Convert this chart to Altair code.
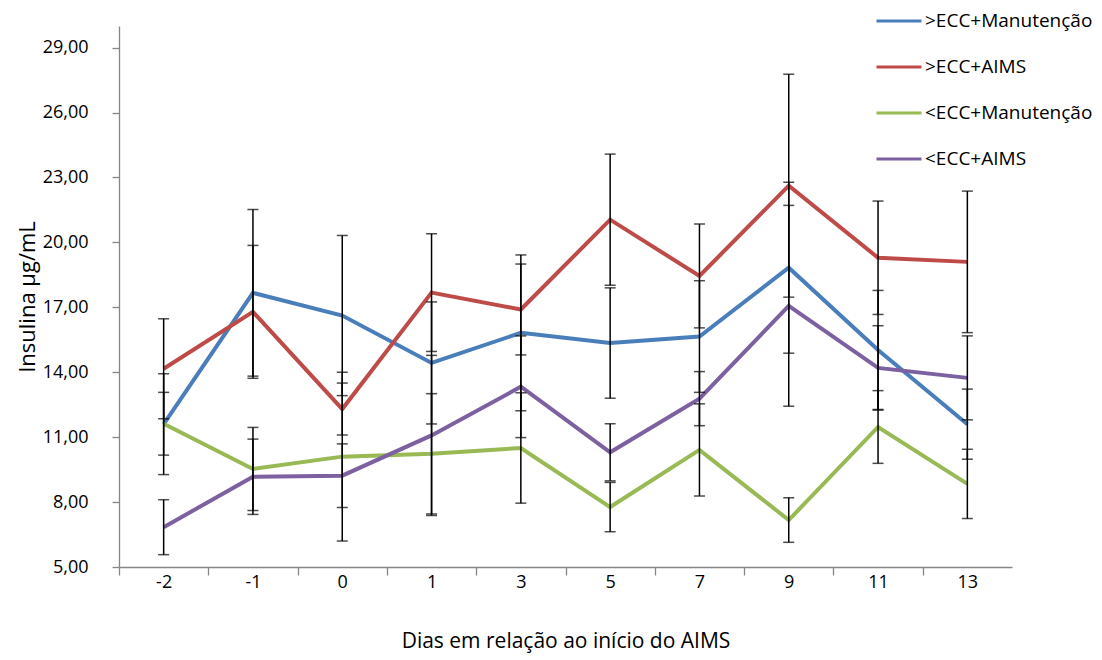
import altair as alt
import pandas as pd

dias = ["-2", "-1", "0", "1", "3", "5", "7", "9", "11", "13"]
series_names = [">ECC+Manutenção", ">ECC+AIMS", "<ECC+Manutenção", "<ECC+AIMS"]
series_colors = ["#4A7EBB", "#BE4B48", "#98B954", "#7D60A0"]

blue_mean = [11.6, 17.67, 16.62, 14.43, 15.82, 15.35, 15.65, 18.83, 15.03, 11.6]
blue_err = [2.33, 3.85, 3.7, 2.82, 3.6, 2.55, 2.58, 3.95, 2.75, 1.62]
red_mean = [14.16, 16.79, 12.3, 17.68, 16.9, 21.05, 18.45, 22.62, 19.29, 19.1]
red_err = [2.31, 3.07, 1.2, 2.72, 2.1, 3.03, 2.4, 5.15, 2.62, 3.27]
green_mean = [11.62, 9.53, 10.1, 10.23, 10.5, 7.77, 10.41, 7.17, 11.47, 8.84]
green_err = [1.45, 1.92, 3.9, 2.78, 2.55, 1.14, 2.13, 1.03, 1.68, 1.6]
purple_mean = [6.84, 9.17, 9.22, 11.08, 13.33, 10.3, 12.78, 17.07, 14.2, 13.74]
purple_err = [1.27, 1.74, 1.47, 3.7, 2.35, 1.32, 1.25, 4.64, 1.95, 1.94]

y_ticks = [5, 8, 11, 14, 17, 20, 23, 26, 29]

means = [blue_mean, red_mean, green_mean, purple_mean]
errs = [blue_err, red_err, green_err, purple_err]

rows = []
for name, m, e in zip(series_names, means, errs):
    for d, v, er in zip(dias, m, e):
        rows.append({"dia": d, "serie": name, "valor": v, "lo": v - er, "hi": v + er})
df = pd.DataFrame(rows)

FONT = "Open Sans"
W, H = 893, 541
step = W / len(dias)

x_enc = alt.X(
    "dia:N",
    sort=dias,
    scale=alt.Scale(type="point", padding=0.5),
    axis=alt.Axis(
        title="Dias em relação ao início do AIMS",
        titleFont=FONT, titleFontSize=21, titleFontWeight="normal", titleColor="#000000",
        titlePadding=39,
        labelFont=FONT, labelFontSize=18, labelColor="#000000", labelAngle=0,
        labelPadding=-2,
        tickOffset=-step / 2, labelOffset=step / 2,
        tickSize=8, tickColor="#868686", tickWidth=1.3,
        domainColor="#868686", domainWidth=1.3,
        grid=False,
    ),
)

y_scale = alt.Scale(domain=[5, 30], nice=False, zero=False)
y_axis = alt.Axis(
    title="Insulina µg/mL",
    titleFont=FONT, titleFontSize=22, titleFontWeight="normal", titleColor="#000000",
    titlePadding=3,
    values=y_ticks,
    labelExpr="replace(format(datum.value, '.2f'), '.', ',')",
    labelFont=FONT, labelFontSize=18, labelColor="#000000",
    labelPadding=24,
    tickSize=7, tickColor="#868686", tickWidth=1.3,
    domainColor="#868686", domainWidth=1.3,
    grid=False,
)

color_enc = alt.Color(
    "serie:N",
    sort=series_names,
    scale=alt.Scale(domain=series_names, range=series_colors),
    legend=alt.Legend(
        title=None,
        orient="none",
        legendX=756,
        legendY=-29,
        symbolType="stroke",
        symbolSize=2025,
        symbolStrokeWidth=3,
        labelFont=FONT,
        labelFontSize=19,
        labelColor="#000000",
        labelOffset=2,
        labelLimit=400,
        rowPadding=12,
        padding=0,
    ),
)

lines = alt.Chart(df).mark_line(strokeWidth=4).encode(
    x=x_enc,
    y=alt.Y("valor:Q", scale=y_scale, axis=y_axis),
    color=color_enc,
    detail="serie:N",
)

bars = alt.Chart(df).mark_rule(color="black", strokeWidth=1.5).encode(
    x=alt.X("dia:N", sort=dias),
    y=alt.Y("lo:Q"),
    y2="hi:Q",
)
caps_lo = alt.Chart(df).mark_tick(color="black", thickness=1.5, size=11).encode(
    x=alt.X("dia:N", sort=dias),
    y=alt.Y("lo:Q"),
)
caps_hi = alt.Chart(df).mark_tick(color="black", thickness=1.5, size=11).encode(
    x=alt.X("dia:N", sort=dias),
    y=alt.Y("hi:Q"),
)

chart = (
    alt.layer(lines, bars, caps_lo, caps_hi)
    .properties(
        width=W,
        height=H,
        padding={"left": 119, "top": 26, "right": 90, "bottom": 93},
        autosize=alt.AutoSizeParams(type="none"),
        background="white",
    )
    .configure_view(stroke=None)
)

chart.save("out.html", embed_options={"renderer": "svg", "actions": False})
